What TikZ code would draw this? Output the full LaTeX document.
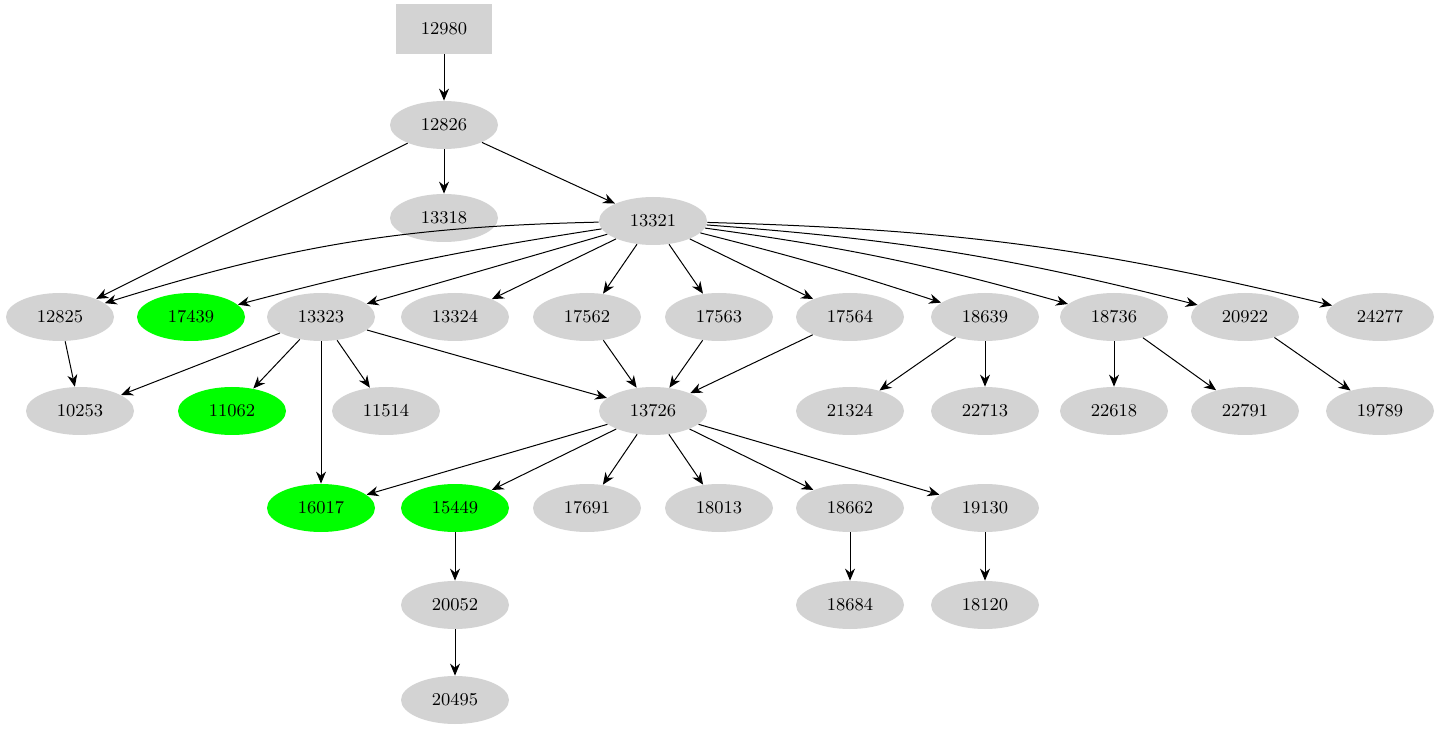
\documentclass[tikz,border=0pt]{standalone}
\usetikzlibrary{shapes.geometric,arrows.meta}
\definecolor{ngray}{RGB}{211,211,211}
\definecolor{ngreen}{RGB}{0,255,0}
\tikzset{
  el/.style={ellipse,fill=ngray,minimum width=54pt,minimum height=24pt,inner sep=0pt,font=\fontsize{9}{10}\selectfont},
  gr/.style={el,fill=ngreen},
  bx/.style={rectangle,fill=ngray,minimum width=48pt,minimum height=25pt,font=\fontsize{9}{10}\selectfont},
  ar/.style={-{Stealth[length=6pt,width=5pt]},line width=0.5pt}
}
\begin{document}
\begin{tikzpicture}[x=0.5pt,y=-0.5pt]
\useasboundingbox (0,0) rectangle (1438,731);
\node[bx] (a12980) at (444,29) {12980};
\node[el] (a12826) at (444,125) {12826};
\node[el] (a13318) at (444,218) {13318};
\node[el] (a13321) at (653,221) {13321};
\foreach \n/\x in {12825/60,13323/321,13324/455,17562/587,17563/719,17564/850,18639/985,18736/1114,20922/1245,24277/1380}
  \node[el] (a\n) at (\x,317) {\n};
\node[gr] (a17439) at (191,317) {17439};
\foreach \n/\x in {10253/80,11514/386,13726/653,21324/850,22713/985,22618/1114,22791/1245,19789/1380}
  \node[el] (a\n) at (\x,411) {\n};
\node[gr] (a11062) at (232,411) {11062};
\node[gr] (a16017) at (321,508) {16017};
\node[gr] (a15449) at (455,508) {15449};
\foreach \n/\x in {17691/587,18013/719,18662/850,19130/985}
  \node[el] (a\n) at (\x,508) {\n};
\foreach \n/\x in {20052/455,18684/850,18120/985}
  \node[el] (a\n) at (\x,605) {\n};
\node[el] (a20495) at (455,700) {20495};
\draw[ar] (a12980)--(a12826);
\draw[ar] (a12826)--(a13318);
\draw[ar] (a12826)--(a13321);
\draw[ar] (a12826)--(a12825);
\draw[ar] (a13321) to[bend right=8] (a12825);
\draw[ar] (a13321) to[bend right=3] (a17439);
\foreach \t in {13323,13324,17562,17563,17564} \draw[ar] (a13321)--(a\t);
\draw[ar] (a13321) to[bend left=2] (a18639);
\draw[ar] (a13321) to[bend left=4] (a18736);
\draw[ar] (a13321) to[bend left=5] (a20922);
\draw[ar] (a13321) to[bend left=6] (a24277);
\draw[ar] (a12825)--(a10253);
\foreach \t in {10253,11062,11514,16017,13726} \draw[ar] (a13323)--(a\t);
\foreach \s in {17562,17563,17564} \draw[ar] (a\s)--(a13726);
\draw[ar] (a18639)--(a21324);
\draw[ar] (a18639)--(a22713);
\draw[ar] (a18736)--(a22618);
\draw[ar] (a18736)--(a22791);
\draw[ar] (a20922)--(a19789);
\foreach \t in {16017,15449,17691,18013,18662,19130} \draw[ar] (a13726)--(a\t);
\draw[ar] (a15449)--(a20052);
\draw[ar] (a20052)--(a20495);
\draw[ar] (a18662)--(a18684);
\draw[ar] (a19130)--(a18120);
\end{tikzpicture}
\end{document}
